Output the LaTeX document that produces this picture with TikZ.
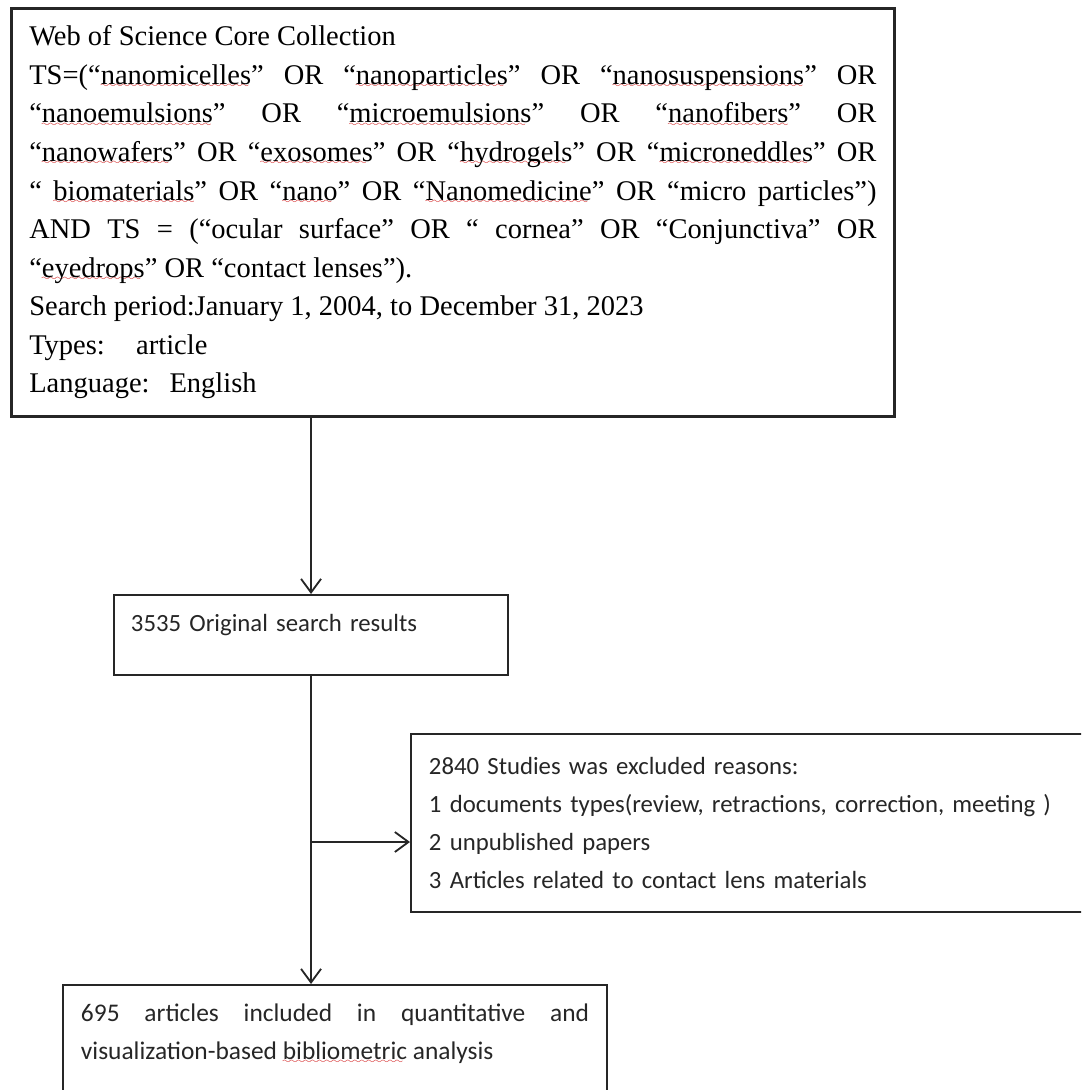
\documentclass[tikz,border=0pt]{standalone}
\usepackage{fontspec}
\setmainfont{Liberation Serif}
\newfontfamily\calibrifont{Carlito}
\usepackage{tikz}
\usetikzlibrary{arrows.meta,positioning,calc}
\font\wavefont=lasy6
\newbox\spellbox
\newcommand\spellwave[1]{\setbox\spellbox=\hbox{#1}%
    \rlap{\color{red!80!black}\lower2.5pt\hbox to\wd\spellbox{\leaders\hbox{\wavefont\char58}\hfil}}%
    \box\spellbox}
\hbadness=10000

\begin{document}
\begin{tikzpicture}[x=0.025cm,y=-0.025cm,
    srbox/.style={draw=black!85,line width=1.4pt,anchor=north west,inner xsep=0.45cm,
        font=\calibrifont\fontsize{17.6pt}{26.8pt}\selectfont,text=black!85},
    srquery/.style={srbox,line width=1.8pt,align=justify,
        font=\fontsize{20.27pt}{27.4pt}\selectfont,text=black},
    srarrow/.style={-{Straight Barb[length=3.4mm,width=5mm]},draw=black!85,line width=1.3pt}
]
\useasboundingbox (0,0) rectangle (1081,1090);
\clip (0,0) rectangle (1081,1090);
\node[srquery,text width=21.175cm,minimum height=10.2cm] (query) at (10,7)
    {Web of Science Core Collection\\
    TS=(“\spellwave{nanomicelles}” OR “\spellwave{nanoparticles}” OR “\spellwave{nanosuspensions}” OR\linebreak
    “\spellwave{nanoemulsions}” OR “\spellwave{microemulsions}” OR “\spellwave{nanofibers}” OR\linebreak
    “\spellwave{nanowafers}” OR “\spellwave{exosomes}” OR “\spellwave{hydrogels}” OR “\spellwave{microneddles}” OR\linebreak
    “ \spellwave{biomaterials}” OR “\spellwave{nano}” OR “\spellwave{Nanomedicine}” OR “micro particles”)\linebreak
    AND TS = (“ocular surface” OR “ cornea” OR “Conjunctiva” OR\linebreak
    “\spellwave{eyedrops}” OR “contact lenses”).\\
    Search period:January 1, 2004, to December 31, 2023\\
    Types:\hspace{1.1em}article\\
    Language:\hspace{0.7em}English};
\node[srbox,inner xsep=0.425cm,text width=9cm,align=left,minimum height=2cm,
    inner ysep=0.45cm,text depth=0.6cm] (found) at (113,594)
    {3535 Original search results};
\node[srbox,text width=16.15cm,align=left,minimum height=4.45cm] (excl) at (410,733)
    {2840 Studies was excluded reasons:\\
    1 documents types(review, retractions, correction, meeting )\\
    2 unpublished papers\\
    3 Articles related to contact lens materials};
\node[srbox,text width=12.7cm,align=justify,minimum height=2.9cm,
    inner ysep=0.45cm,text depth=1.5cm,font=\calibrifont\fontsize{18.07pt}{26.8pt}\selectfont]
    (included) at (62,984)
    {695 articles included in quantitative and\linebreak
    visualization-based \spellwave{bibliometric} analysis};
\coordinate (split) at (found.south |- 0,842);
\draw[srarrow] (query.south -| found.north) -- (found.north);
\draw[srarrow] (found.south) -- (found.south |- included.north);
\draw[srarrow] (split) -- (split -| excl.west);
\end{tikzpicture}
\end{document}
